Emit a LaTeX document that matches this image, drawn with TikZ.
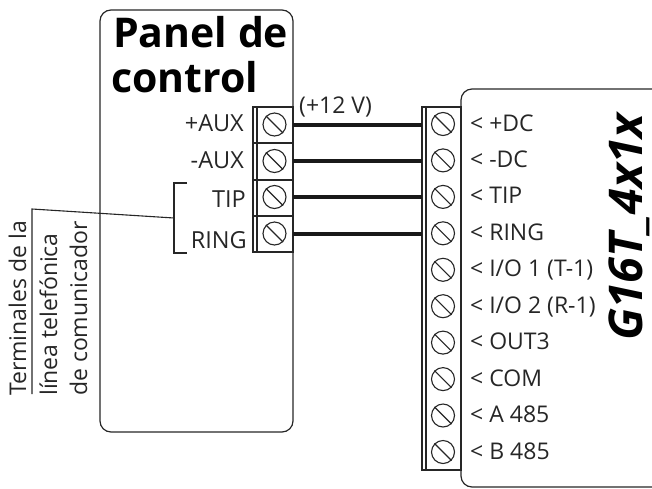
\documentclass[tikz,border=0pt]{standalone}
\usepackage{fontspec}
\setmainfont{Open Sans}
\begin{document}
\begin{tikzpicture}[x=1pt,y=-1pt,
  thinline/.style={draw=black!85,line width=1.1pt},
  outline/.style={draw=black!85,line width=1.2pt,rounded corners=11pt},
  wire/.style={draw=black!90,line width=4.2pt},
  term/.style={font=\fontsize{23.5}{26}\selectfont,text=black!85,inner sep=0pt},
  lab/.style={font=\fontsize{23}{26}\selectfont,text=black!85,inner sep=0pt,anchor=base west},
  vlab/.style={font=\fontsize{23}{26}\selectfont,text=black!85,inner sep=0pt,rotate=90,anchor=base west},
  title/.style={font=\fontsize{41}{44}\selectfont\bfseries,inner sep=0pt,anchor=base west},
  screw/.style={circle,draw=black!85,line width=1.1pt,minimum size=23pt,inner sep=0pt}]
\useasboundingbox (0,0) rectangle (652,488);
% housings
\draw[outline] (100,10) rectangle (293,432);
\draw[outline] (690,89) -- (461,89) -- (461,487) -- (690,487);
% title
\node[title] (t1) at (113,47) {Panel de};
\node[title] (t2) at (111,92) {control};
% left block
\draw[thinline,fill=white] (253,107) rectangle (293,252);
\draw[thinline] (257,107) -- (257,252);
\foreach \i/\y in {1/143,2/180,3/216}{\draw[thinline] (253,\y) -- (293,\y);}
\foreach \n/\y in {a/124.5,b/161,c/197,d/233.5}{
  \node[screw] (L\n) at (274.5,\y) {};
  \draw[thinline] (L\n.135) -- (L\n.-45);
}
\node[term,anchor=base east] (n1) at (244,131) {+AUX};
\node[term,anchor=base east] (n2) at (244,168) {-AUX};
\node[term,anchor=base east] (n3) at (246,207) {TIP};
\node[term,anchor=base east] (n4) at (247,248) {RING};
% right block
\draw[thinline,fill=white] (422,107) rectangle (461,470);
\draw[thinline] (426,107) -- (426,470);
\foreach \n/\y/\t in {0/124/{< +DC},1/160.4/{< -DC},2/196.9/{< TIP},3/233.3/{< RING},4/269.8/{< I/O 1 (T-1)},5/306.2/{< I/O 2 (R-1)},6/342.6/{< OUT3},7/379.1/{< COM},8/415.5/{< A 485},9/452/{< B 485}}{
  \node[screw] (R\n) at (443,\y) {};
  \draw[thinline] (R\n.135) -- (R\n.-45);
  \node[lab] (T\n) at (470,\y+7) {\t};
}
% wires
\coordinate (wa) at (293,125);
\coordinate (wb) at (293,161);
\coordinate (wc) at (293,197);
\coordinate (wd) at (293,234);
\coordinate (xa) at (422,125);
\coordinate (xb) at (422,161);
\coordinate (xc) at (422,197);
\coordinate (xd) at (422,234);
\draw[wire] (wa) -- (xa);
\draw[wire] (wb) -- (xb);
\draw[wire] (wc) -- (xc);
\draw[wire] (wd) -- (xd);
\node[lab] (v12) at (299,113) {(+12 V)};
% bracket and leader
\coordinate (b1) at (187,183);
\coordinate (b2) at (174,183);
\coordinate (b3) at (174,253);
\coordinate (b4) at (187,253);
\coordinate (b5) at (174,218);
\coordinate (b6) at (32,209);
\coordinate (b7) at (32,394);
\draw[thinline] (b1) -- (b2) -- (b3) -- (b4);
\draw[thinline] (b5) -- (b6) -- (b7);
\node[vlab] (v1) at (26,396) {Terminales de la};
\node[vlab] (v2) at (57,396) {línea telefónica};
\node[vlab] (v3) at (87,396) {de comunicador};
% device name
\node[font=\fontsize{46.5}{50}\selectfont\bfseries\itshape,inner sep=0pt,rotate=90,anchor=base west] (g) at (642,341) {G16T\_4x1x};
\end{tikzpicture}
\end{document}
